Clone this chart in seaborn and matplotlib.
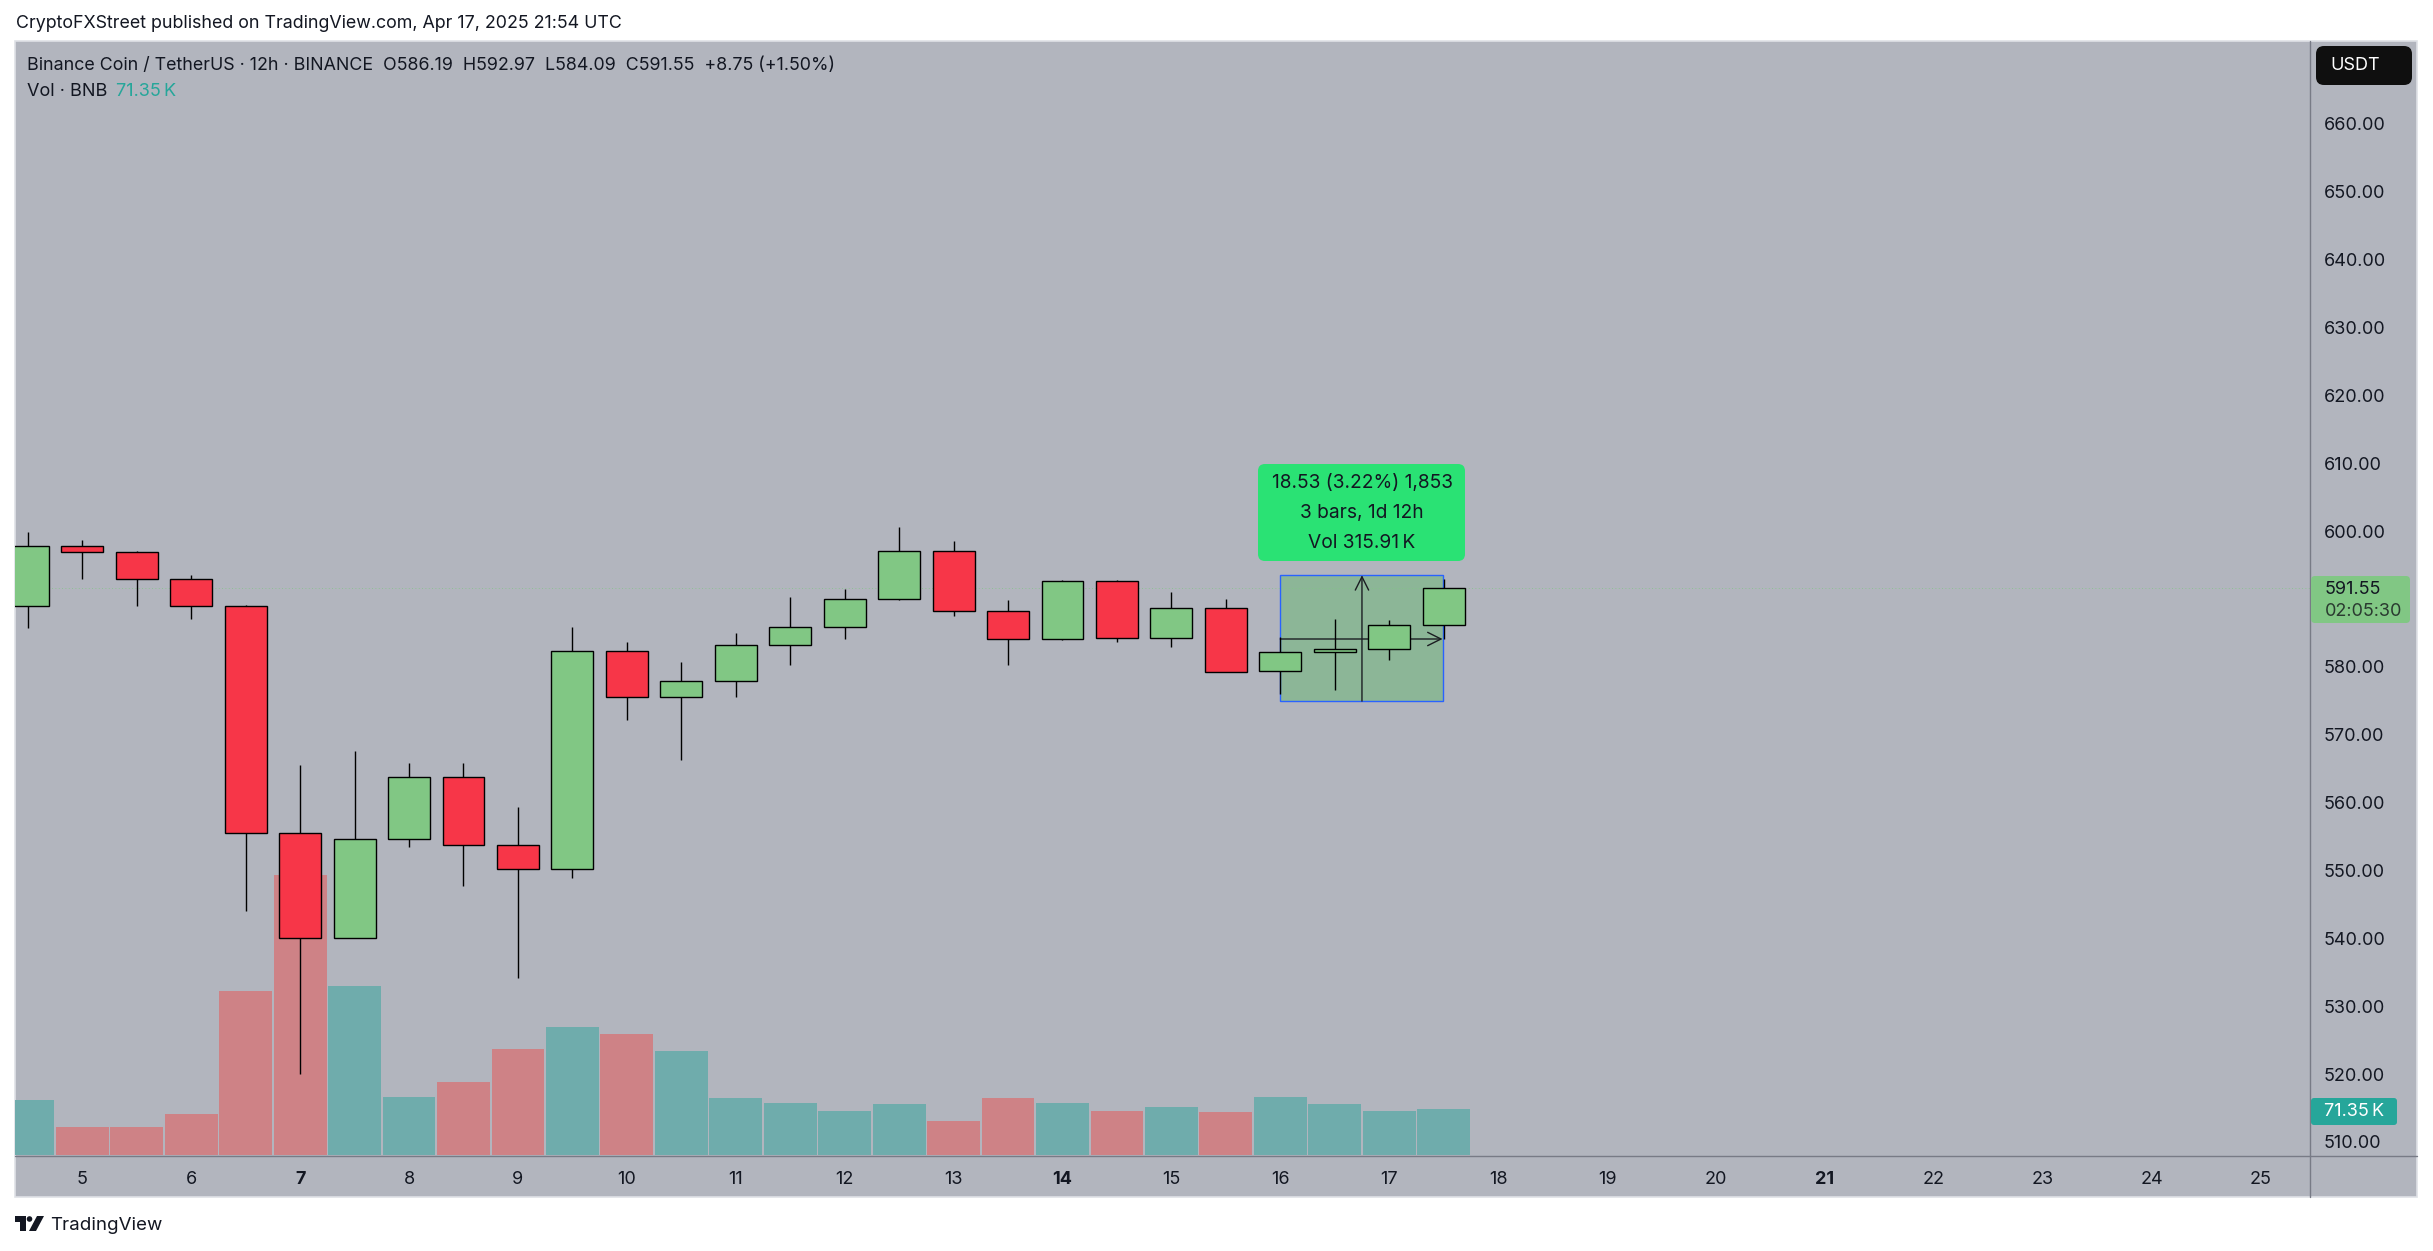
import numpy as np
import pandas as pd
import matplotlib
matplotlib.use("Agg")
import matplotlib.pyplot as plt
from matplotlib.patches import Rectangle, FancyBboxPatch, Polygon, Circle
from matplotlib.lines import Line2D
from matplotlib.transforms import Affine2D
import seaborn as sns

opens  = [588.9,597.8,596.9,593.0,588.9,555.5,540.0,554.6,563.7,553.7,550.2,582.3,575.6,577.9,583.2,585.9,590.0,597.1,588.2,584.1,592.6,584.3,588.7,579.4,582.2,582.7,586.19]
highs  = [599.9,598.7,597.1,593.5,589.1,565.6,567.6,565.8,565.8,559.4,585.9,583.6,580.7,585.0,590.3,591.4,600.6,598.5,589.8,592.8,592.8,591.0,590.0,584.4,587.0,586.9,592.97]
lows   = [585.7,593.0,588.9,587.0,544.0,520.0,540.0,553.4,547.7,534.2,548.9,572.2,566.3,575.6,580.2,584.1,589.8,587.5,580.2,584.0,583.6,582.9,579.3,576.0,576.6,581.0,584.09]
closes = [597.8,596.9,593.0,588.9,555.5,540.0,554.6,563.7,553.7,550.2,582.3,575.6,577.9,583.2,585.9,590.0,597.1,588.2,584.1,592.6,584.3,588.7,579.3,582.2,582.7,586.2,591.55]
volumes = [85.7,42.8,42.8,64,254,434,262,90,114,164,198,188,162,88,81,69,79,52,88,81,69,74,67,90,79,69,71.35]
days = list(range(5, 26))
bold_days = [7, 14, 21]
price_ticks = [p for p in range(510, 670, 10) if p != 590]

W, H = 2433, 1251
BG = "#b2b5be"; UP = "#81c784"; DOWN = "#f73648"
VUP = "#6facac"; VDOWN = "#ce8286"; INK = "#131722"; AXC = "#787b86"

sns.set_theme(style="white")
plt.rcParams["font.family"] = ["Inter", "DejaVu Sans"]
fig = plt.figure(figsize=(W/100, H/100), dpi=100, facecolor="white")
px = Affine2D().scale(1, -1).translate(0, H)

L, R, T, B = 15, 2310, 41, 1155
fig.add_artist(Rectangle((15, 41), 2402, 1156, transform=px, fc=BG, ec="#dfe1e6", lw=1.2, zorder=-1))
rect = [L/W, 1-B/H, (R-L)/W, (B-T)/H]
axv = fig.add_axes(rect, facecolor="none", zorder=1)
ax = fig.add_axes(rect, facecolor="none", zorder=2)

df = pd.DataFrame({"i": np.arange(len(opens)), "o": opens, "h": highs, "l": lows, "c": closes, "v": volumes})
df["dir"] = np.where(df.c >= df.o, "up", "down")

xlim = (-0.236, 41.91)
sns.barplot(data=df, x="i", y="v", hue="dir", palette={"up": VUP, "down": VDOWN}, native_scale=True,
            width=0.97, dodge=False, legend=False, ax=axv, saturation=1, linewidth=0)
axv.set_xlim(*xlim); axv.set_ylim(0, 1729)
axv.axis("off")

ax.set_xlim(*xlim); ax.set_ylim(508.08, 672.2)
for s in ax.spines.values():
    s.set_visible(False)

# long position tool
ax.add_patch(Rectangle((23, 574.95), 2.98, 593.5-574.95, fc="#8cb697", ec="#2962ff", lw=1.0, zorder=1))
ax.annotate("", xy=(24.5, 593.5), xytext=(24.5, 574.95), zorder=2,
            arrowprops=dict(arrowstyle="->", lw=1.0, color="#1b1d22", mutation_scale=24, shrinkA=0, shrinkB=0))
ax.annotate("", xy=(25.98, 584.1), xytext=(23, 584.1), zorder=2,
            arrowprops=dict(arrowstyle="->", lw=1.0, color="#1b1d22", mutation_scale=24, shrinkA=0, shrinkB=0))

ax.axhline(closes[-1], color=UP, lw=0.6, ls=(0, (1, 3)), zorder=1.5)

ax.vlines(df.i, df.l, df.h, color="black", lw=1.0, zorder=3)
bottoms = df[["o", "c"]].min(axis=1)
heights = (df.o - df.c).abs()
ax.bar(df.i, heights, bottom=bottoms, width=0.77, color=[UP if d == "up" else DOWN for d in df["dir"]],
       edgecolor="black", linewidth=1.0, zorder=4)

ax.yaxis.tick_right()
ax.set_yticks(price_ticks)
ax.set_yticklabels([f"{p}.00" for p in price_ticks], fontsize=13, color=INK)
ax.set_xticks([1 + 2*(d-5) for d in days])
ax.set_xticklabels([str(d) for d in days], fontsize=13, color=INK)
for lab, d in zip(ax.get_xticklabels(), days):
    if d in bold_days:
        lab.set_fontweight("bold")
ax.tick_params(axis="y", length=0, pad=10)
ax.tick_params(axis="x", length=0, pad=11.5)

fig.add_artist(Line2D([R, R], [41, 1197], transform=px, color=AXC, lw=1.0, zorder=3))
fig.add_artist(Line2D([15, 2417], [B+0.5, B+0.5], transform=px, color=AXC, lw=1.0, zorder=3))

def txt(x, y, s, size=13, color=INK, ha="left", **kw):
    fig.text(x/W, 1-y/H, s, fontsize=size, color=color, ha=ha, va="center", zorder=10, **kw)

def box(x0, y0, x1, y1, fc, r=6, **kw):
    fig.add_artist(FancyBboxPatch((x0+r, y0+r), x1-x0-2*r, y1-y0-2*r, boxstyle=f"round,pad={r},rounding_size={r}",
                                  transform=px, fc=fc, ec="none", zorder=9, **kw))

txt(16, 23, "CryptoFXStreet published on TradingView.com, Apr 17, 2025 21:54 UTC", size=12.85)
txt(27, 65, "Binance Coin / TetherUS · 12h · BINANCE  O586.19  H592.97  L584.09  C591.55  +8.75 (+1.50%)", size=12.85)
txt(27, 91, "Vol · BNB", size=13)
txt(116, 91, "71.35\u2009K", size=13, color="#26a69a")

box(2316, 46, 2412, 85, "#0f0f0f", r=8)
txt(2330, 66, "USDT", size=13, color="white")
box(2311, 576, 2410, 623, UP, r=4)
txt(2325, 590, "591.55", size=13)
txt(2325, 611, "02:05:30", size=13, color="#2a3a30")
box(2311, 1098, 2397, 1125, "#26a69a", r=3)
txt(2324, 1112, "71.35\u2009K", size=13, color="white")

box(1258, 464, 1465, 561, "#2ae274", r=7)
txt(1362, 483, "18.53 (3.22%) 1,853", size=13.8, ha="center")
txt(1362, 513, "3 bars, 1d 12h", size=13.8, ha="center")
txt(1362, 543, "Vol 315.91\u2009K", size=13.8, ha="center")

# logo
fig.add_artist(Polygon([(15,1216),(26,1216),(26,1231),(20,1231),(20,1222),(15,1222)], transform=px, fc="#131722", ec="none"))
fig.add_artist(Circle((29.5,1219), 2.8, transform=px, fc="#131722", ec="none"))
fig.add_artist(Polygon([(37,1216),(44,1216),(36,1231),(29,1231)], transform=px, fc="#131722", ec="none"))
txt(50, 1226, "TradingView", size=13.5)

fig.savefig("out.png", dpi=100, facecolor="white")
